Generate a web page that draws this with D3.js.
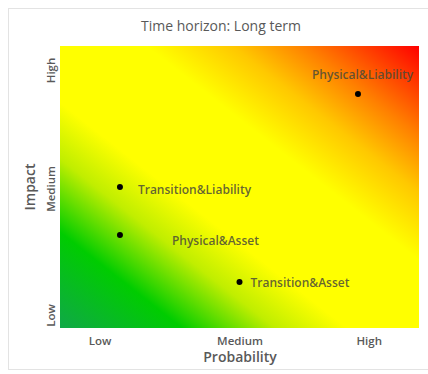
<!DOCTYPE html>
<html><head><meta charset="utf-8">
<script src="https://cdn.jsdelivr.net/npm/d3@7"></script>
<style>body{margin:0;background:#fff}svg{display:block}</style>
</head><body>
<script>
const title = "Time horizon: Long term";
const xTickLabels = ["Low", "Medium", "High"];
const xTickValues = [1.1, 5, 8.6];
const yTickLabels = ["Low", "Medium", "High"];
const yTickValues = [0.46, 4.95, 9.15];
const pointNames = ["Physical&Liability", "Transition&Liability", "Physical&Asset", "Transition&Asset"];
const probability = [8.3, 1.67, 1.67, 5.0];
const impact = [8.3, 5.0, 3.3, 1.63];

const W = 428, H = 374;
const m = {left: 60, right: 9, top: 46, bottom: 46};
const svg = d3.select("body").append("svg").attr("width", W).attr("height", H);

svg.append("rect").attr("x", 8.5).attr("y", 8.5).attr("width", 440).attr("height", 361)
  .attr("fill", "none").attr("stroke", "#e3e3e3");

const x = d3.scaleLinear().domain([0, 10]).range([m.left, W - m.right]);
const y = d3.scaleLinear().domain([0, 10]).range([H - m.bottom, m.top]);

const defs = svg.append("defs");
const g = defs.append("linearGradient").attr("id", "grad")
  .attr("x1", 0).attr("y1", 1).attr("x2", 1).attr("y2", 0);
[[0, "#10a848"], [0.17, "#00cc00"], [0.3, "#c0ee00"], [0.4, "#ffff00"], [0.62, "#ffff00"], [0.74, "#ffc800"], [0.84, "#ff8000"], [1, "#ff0000"]]
  .forEach(([o, c]) => g.append("stop").attr("offset", o).attr("stop-color", c));

svg.append("rect").attr("x", x(0)).attr("y", y(10))
  .attr("width", x(10) - x(0)).attr("height", y(0) - y(10)).attr("fill", "url(#grad)");

const font = "'Open Sans', sans-serif";
svg.append("text").attr("x", 221).attr("y", 31).attr("text-anchor", "middle")
  .attr("font-family", font).attr("font-size", 14).attr("fill", "#595959").text(title);

// x axis
const xa = svg.append("g").attr("transform", `translate(0,${y(0)})`)
  .call(d3.axisBottom(x).tickValues(xTickValues).tickFormat((d, i) => xTickLabels[i]).tickSize(0).tickPadding(9));
xa.select(".domain").remove();
xa.selectAll("text").attr("font-family", font).attr("font-size", 11.5).attr("font-weight", 600).attr("fill", "#595959");

// y axis
const ya = svg.append("g").attr("transform", `translate(${x(0)},0)`)
  .call(d3.axisLeft(y).tickValues(yTickValues).tickFormat((d, i) => yTickLabels[i]).tickSize(0).tickPadding(0));
ya.select(".domain").remove();
ya.selectAll("text").attr("font-family", font).attr("font-size", 11.5).attr("font-weight", 600).attr("fill", "#595959")
  .attr("text-anchor", "middle").attr("dy", null).attr("x", null)
  .attr("transform", "translate(-5,0) rotate(-90)");

svg.append("text").attr("x", 240).attr("y", 362).attr("text-anchor", "middle")
  .attr("font-family", font).attr("font-size", 14).attr("font-weight", 600).attr("fill", "#595959").text("Probability");
svg.append("text").attr("transform", `translate(35,${y(5)}) rotate(-90)`).attr("text-anchor", "middle")
  .attr("font-family", font).attr("font-size", 14).attr("font-weight", 600).attr("fill", "#595959").text("Impact");

// points
const labelOffsets = [[-46, -18], [18, 4], [52, 7], [11, 2]];
const pts = svg.append("g");
pointNames.forEach((n, i) => {
  pts.append("circle").attr("cx", x(probability[i])).attr("cy", y(impact[i])).attr("r", 3).attr("fill", "#000");
  pts.append("text").attr("x", x(probability[i]) + labelOffsets[i][0]).attr("y", y(impact[i]) + labelOffsets[i][1])
    .attr("font-family", font).attr("font-size", 12).attr("font-weight", 600)
    .attr("fill", "#4a4a3a").attr("fill-opacity", 0.85).attr("dominant-baseline", "middle").text(n);
});
</script>
</body></html>
